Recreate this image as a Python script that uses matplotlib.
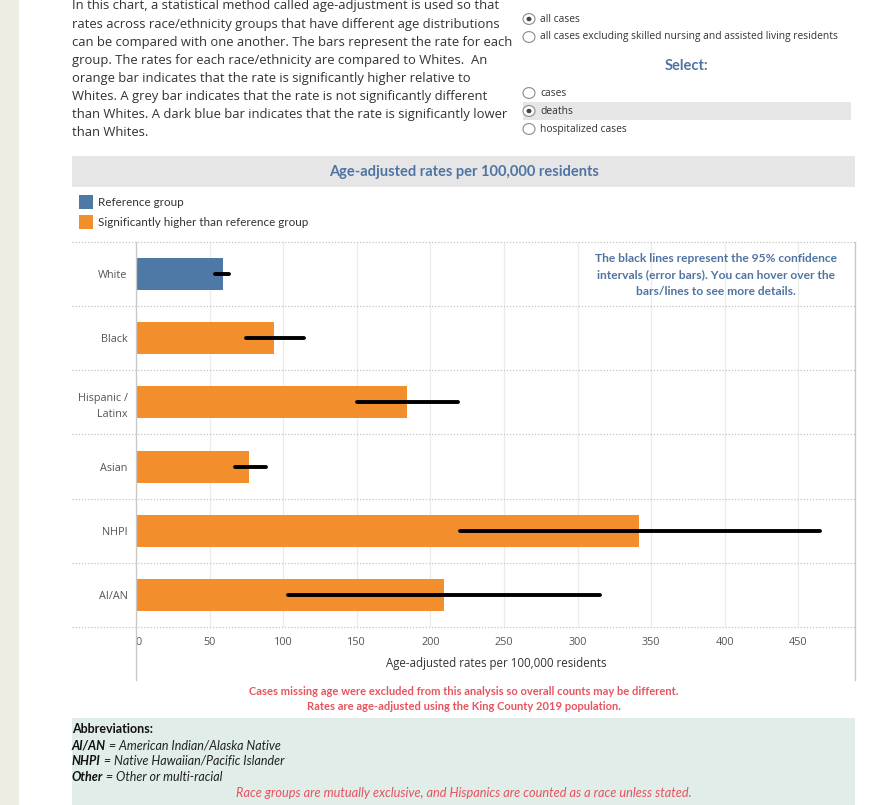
import matplotlib.pyplot as plt
from matplotlib.patches import Rectangle, Circle
from matplotlib.lines import Line2D

# data (age-adjusted death rates per 100,000)
groups = ["White", "Black", "Hispanic /\nLatinx", "Asian", "NHPI", "AI/AN"]
rates = [59, 94, 184, 77, 342, 209]
ci_low = [54, 75, 150, 67, 220, 103]
ci_high = [63, 114, 219, 88, 465, 315]
status = ["ref", "higher", "higher", "higher", "higher", "higher"]
x_ticks = [0, 50, 100, 150, 200, 250, 300, 350, 400, 450]

colors = {"ref": "#4e79a7", "higher": "#f28e2b"}
BLUE_TXT = "#4f74a3"
RED_TXT = "#e8535e"
GREY_TXT = "#555555"
BODY = "Open Sans"
HEAD = "Lato"

W, H = 895, 805
fig = plt.figure(figsize=(W / 100, H / 100), dpi=100)
fig.patch.set_facecolor("white")


def X(px):
    return px / W


def Y(py):
    return 1 - py / H


def rect(x0, y0, x1, y1, color):
    fig.add_artist(Rectangle((X(x0), Y(y1)), X(x1) - X(x0), Y(y0) - Y(y1),
                             transform=fig.transFigure, facecolor=color,
                             edgecolor="none", zorder=0))


def vline(x, y0, y1, color="#c8c8c8", lw=1.0):
    fig.add_artist(Line2D([X(x), X(x)], [Y(y0), Y(y1)], transform=fig.transFigure,
                          color=color, lw=lw))


# left page strip
rect(0, 0, 19, H, "#efede2")

# intro paragraph
intro = [
    "In this chart, a statistical method called age-adjustment is used so that",
    "rates across race/ethnicity groups that have different age distributions",
    "can be compared with one another. The bars represent the rate for each",
    "group. The rates for each race/ethnicity are compared to Whites.  An",
    "orange bar indicates that the rate is significantly higher relative to",
    "Whites. A grey bar indicates that the rate is not significantly different",
    "than Whites. A dark blue bar indicates that the rate is significantly lower",
    "than Whites.",
]
for i, line in enumerate(intro):
    fig.text(X(72), Y(6 + i * 18.1), line, family=BODY, fontsize=9.4,
             color="#333333", va="center", ha="left")

# selectors (the first heading is cut by the top edge, as in the page)
fig.text(X(687), Y(-5), "Select:", family=HEAD, fontsize=10.5, weight="bold",
         color=BLUE_TXT, ha="center", va="center")
fig.text(X(687), Y(66), "Select:", family=HEAD, fontsize=10.5, weight="bold",
         color=BLUE_TXT, ha="center", va="center")
rect(523, 102, 851, 120, "#e6e6e6")
radios = [("all cases", 19, True),
          ("all cases excluding skilled nursing and assisted living residents", 37, False),
          ("cases", 93, False), ("deaths", 111, True), ("hospitalized cases", 129, False)]
for label, ypx, on in radios:
    fig.add_artist(Circle((X(529), Y(ypx)), 6 / W, transform=fig.transFigure,
                          facecolor="white", edgecolor="#8a8a8a", lw=0.8, zorder=3))
    if on:
        fig.add_artist(Circle((X(529), Y(ypx)), 2.5 / W, transform=fig.transFigure,
                              facecolor="#444444", edgecolor="none", zorder=4))
    fig.text(X(540), Y(ypx), label, family=BODY, fontsize=7.35, color="#333333",
             va="center", ha="left")

# header band
rect(72, 156, 855, 187, "#e6e6e6")
fig.text(X(464), Y(172), "Age-adjusted rates per 100,000 residents", family=HEAD,
         fontsize=10.5, weight="bold", color=BLUE_TXT, ha="center", va="center")

# legend
for i, (key, label) in enumerate([("ref", "Reference group"),
                                  ("higher", "Significantly higher than reference group")]):
    y0 = 195 + i * 20
    rect(79, y0, 93, y0 + 14, colors[key])
    fig.text(X(98), Y(y0 + 7.5), label, family=HEAD, fontsize=8.4, color="#333333",
             va="center", ha="left")

# main axes
ax = fig.add_axes([X(136), Y(627), X(855) - X(136), Y(242) - Y(627)])
ypos = list(range(len(groups)))
ax.barh(ypos, rates, height=0.5, color=[colors[s] for s in status], zorder=2)
eb = ax.errorbar(rates, ypos,
                 xerr=[[r - lo for r, lo in zip(rates, ci_low)],
                       [hi - r for r, hi in zip(rates, ci_high)]],
                 fmt="none", ecolor="black", elinewidth=2.8, capsize=0, zorder=3)
for coll in eb[2]:
    coll.set_capstyle("round")
ax.set_xlim(0, 488.5)
ax.set_ylim(len(groups) - 0.5, -0.5)
ax.set_yticks(ypos)
ax.set_yticklabels(groups, family=BODY, fontsize=7.8, color=GREY_TXT,
                   linespacing=1.6)
ax.set_xticks(x_ticks)
ax.set_xticklabels([str(t) for t in x_ticks], family=BODY, fontsize=7.8,
                   color=GREY_TXT)
ax.get_xticklabels()[0].set_ha("left")
ax.tick_params(length=0, pad=7)
ax.tick_params(axis="y", pad=6)
for s in ax.spines.values():
    s.set_visible(False)
for t in x_ticks[1:]:
    ax.axvline(t, color="#ebebeb", lw=0.9, zorder=0)
for k in range(len(groups) + 1):
    ax.axhline(k - 0.5, xmin=-0.089, xmax=1, color="#c4c4c4", lw=0.9,
               ls=(0, (1, 1.5)), clip_on=False, zorder=1)
vline(136, 242, 680)
vline(855, 242, 680)

note = ["The black lines represent the 95% confidence",
        "intervals (error bars). You can hover over the",
        "bars/lines to see more details."]
for i, line in enumerate(note):
    fig.text(X(716), Y(259 + i * 16), line, family=HEAD, fontsize=8.65,
             weight="bold", color=BLUE_TXT, ha="center", va="center")

fig.text(X(496), Y(663), "Age-adjusted rates per 100,000 residents", family=BODY,
         fontsize=8.3, color="#333333", ha="center", va="center")

# footnotes
fig.text(X(464), Y(691), "Cases missing age were excluded from this analysis so overall counts may be different.",
         family=HEAD, fontsize=8.05, weight="bold", color=RED_TXT, ha="center", va="center")
fig.text(X(464), Y(706), "Rates are age-adjusted using the King County 2019 population.",
         family=HEAD, fontsize=8.05, weight="bold", color=RED_TXT, ha="center", va="center")

rect(72, 718, 855, H, "#e0ede9")
fig.text(X(72), Y(729), "Abbreviations:", family=HEAD, fontsize=9, weight="bold",
         color="#111111", ha="left", va="center")
abbrev = [("AI/AN", "American Indian/Alaska Native"),
          ("NHPI", "Native Hawaiian/Pacific Islander"),
          ("Other", "Other or multi-racial")]
for i, (short, full) in enumerate(abbrev):
    t = fig.text(X(72), Y(745 + i * 16), short, family=HEAD, fontsize=9,
                 weight="bold", style="italic", color="#111111", ha="left",
                 va="center")
    plt.annotate(" = " + full, xy=(1, 0.5), xycoords=t, family=HEAD, fontsize=9,
                 style="italic", color="#222222", ha="left", va="center",
                 annotation_clip=False)
fig.text(X(464), Y(793), "Race groups are mutually exclusive, and Hispanics are counted as a race unless stated.",
         family=HEAD, fontsize=9.2, style="italic", color=RED_TXT, ha="center", va="center")

fig.savefig("out.png", dpi=100)
